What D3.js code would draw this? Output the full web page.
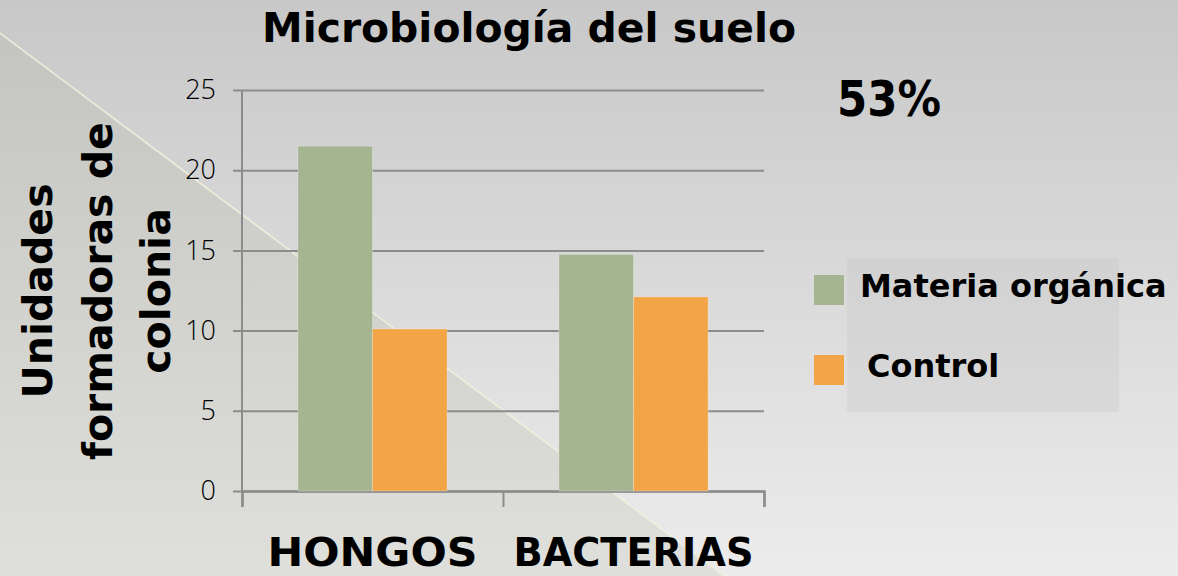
<!DOCTYPE html>
<html>
<head>
<meta charset="utf-8">
<script src="https://cdn.jsdelivr.net/npm/d3@7"></script>
<style>
  body { margin: 0; padding: 0; overflow: hidden; }
  text { font-family: "DejaVu Sans", sans-serif; fill: #000; }
</style>
</head>
<body>
<div id="chart-container"></div>
<script>
const categories = ["HONGOS", "BACTERIAS"];
const categoryLabelWidths = [210, 240];
const seriesNames = ["Materia orgánica", "Control"];
const seriesColors = ["#a5b592", "#f3a447"];
const materiaOrganica = [21.5, 14.75];
const control = [10.1, 12.1];
const yTicks = [0, 5, 10, 15, 20, 25];
const titleText = "Microbiología del suelo";
const yTitleLines = ["Unidades", "formadoras de", "colonia"];
const percentText = "53%";

const svgWidth = 1178;
const svgHeight = 576;
const margin = { top: 90, right: 414, bottom: 85, left: 242 };

const svg = d3.select("#chart-container")
    .append("svg")
    .attr("width", svgWidth)
    .attr("height", svgHeight);

// background gradients (slide look)
const defs = svg.append("defs");
const bgGrad = defs.append("linearGradient")
    .attr("id", "bgGrad").attr("x1", 0).attr("y1", 0).attr("x2", 0).attr("y2", 1);
bgGrad.append("stop").attr("offset", "0%").attr("stop-color", "#c8c8c8");
bgGrad.append("stop").attr("offset", "100%").attr("stop-color", "#ececec");

const triGrad = defs.append("linearGradient")
    .attr("id", "triGrad").attr("x1", 0).attr("y1", 0).attr("x2", 0).attr("y2", 1);
triGrad.append("stop").attr("offset", "0%").attr("stop-color", "#c4c5c0");
triGrad.append("stop").attr("offset", "100%").attr("stop-color", "#dfe0db");

svg.append("rect")
    .attr("width", svgWidth)
    .attr("height", svgHeight)
    .attr("fill", "url(#bgGrad)");

svg.append("polygon")
    .attr("points", "0,33 724,576 0,576")
    .attr("fill", "url(#triGrad)");

svg.append("line")
    .attr("x1", 0).attr("y1", 33)
    .attr("x2", 724).attr("y2", 576)
    .attr("stroke", "#efefdc")
    .attr("stroke-width", 1.5);

const plotRight = svgWidth - margin.right;
const plotBottom = svgHeight - margin.bottom;

const xScale = d3.scaleBand()
    .domain(categories)
    .range([margin.left, plotRight]);

const xSeries = d3.scaleBand()
    .domain(seriesNames)
    .range([0, xScale.bandwidth()])
    .paddingOuter(0.75)
    .paddingInner(0);

const yScale = d3.scaleLinear()
    .domain([0, 25])
    .range([plotBottom, margin.top]);

// gridlines + outward ticks in one axis, anchored at the right edge
const yAxis = svg.append("g")
    .attr("transform", `translate(${plotRight}, 0)`)
    .call(d3.axisLeft(yScale).tickValues(yTicks).tickSize(plotRight - margin.left + 9).tickPadding(17));

yAxis.select(".domain").remove();
yAxis.selectAll(".tick line")
    .attr("stroke", "#8c8c8c")
    .attr("stroke-width", 2);
yAxis.selectAll(".tick text")
    .style("font-family", "'Open Sans', sans-serif")
    .style("font-weight", 300)
    .style("font-size", "27px")
    .attr("fill", "#111");

// vertical axis line
svg.append("line")
    .attr("x1", margin.left).attr("y1", margin.top)
    .attr("x2", margin.left).attr("y2", plotBottom)
    .attr("stroke", "#8c8c8c")
    .attr("stroke-width", 2);

// category boundary ticks
const xEdges = d3.scaleLinear()
    .domain([0, categories.length])
    .range([margin.left, plotRight]);

const xAxis = svg.append("g")
    .attr("transform", `translate(0, ${plotBottom})`)
    .call(d3.axisBottom(xEdges).ticks(categories.length).tickSize(16).tickFormat(d => ""));

xAxis.select(".domain")
    .attr("stroke", "#8c8c8c")
    .attr("stroke-width", 2.5);
xAxis.selectAll(".tick line")
    .attr("stroke", "#8c8c8c")
    .attr("stroke-width", 2);

// category labels
const xLabels = svg.append("g")
    .attr("transform", `translate(0, ${plotBottom})`)
    .call(d3.axisBottom(xScale).tickSize(0).tickPadding(0));
xLabels.select(".domain").remove();
xLabels.selectAll(".tick text")
    .attr("y", 75)
    .attr("dy", 0)
    .attr("textLength", (d, i) => categoryLabelWidths[i])
    .attr("lengthAdjust", "spacingAndGlyphs")
    .style("font-family", "'DejaVu Sans', sans-serif")
    .style("font-weight", "bold")
    .style("font-size", "39px")
    .attr("fill", "#000");

// bars
const seriesValues = [materiaOrganica, control];
seriesNames.forEach((name, si) => {
    svg.selectAll("rect.s" + si)
        .data(categories)
        .enter()
        .append("rect")
        .attr("class", "s" + si)
        .attr("x", d => xScale(d) + xSeries(name))
        .attr("y", (d, i) => yScale(seriesValues[si][i]))
        .attr("width", xSeries.bandwidth())
        .attr("height", (d, i) => plotBottom - yScale(seriesValues[si][i]))
        .attr("fill", seriesColors[si])
        .attr("stroke", "rgba(255,255,255,0.25)")
        .attr("stroke-width", 1);
});

// title
svg.append("text")
    .attr("x", 529)
    .attr("y", 42)
    .attr("text-anchor", "middle")
    .attr("textLength", 534)
    .attr("lengthAdjust", "spacingAndGlyphs")
    .style("font-weight", "bold")
    .style("font-size", "40px")
    .text(titleText);

// y title (three rotated lines)
const yTitleX = [52, 112, 170];
yTitleLines.forEach((line, i) => {
    svg.append("text")
        .attr("transform", `translate(${yTitleX[i]}, 291) rotate(-90)`)
        .attr("text-anchor", "middle")
        .style("font-weight", "bold")
        .style("font-size", "41px")
        .text(line);
});

// 53% note
svg.append("text")
    .attr("x", 837)
    .attr("y", 116)
    .attr("textLength", 104)
    .attr("lengthAdjust", "spacingAndGlyphs")
    .style("font-weight", "bold")
    .style("font-size", "50px")
    .text(percentText);

// legend
function drawLegend(svg) {
    svg.append("rect")
        .attr("x", 847)
        .attr("y", 258)
        .attr("width", 272)
        .attr("height", 154)
        .attr("fill", "rgba(190,190,190,0.25)");

    const legendY = [275, 355];
    const labelX = [860, 867];
    seriesNames.forEach((name, i) => {
        svg.append("rect")
            .attr("x", 814)
            .attr("y", legendY[i])
            .attr("width", 30)
            .attr("height", 30)
            .attr("fill", seriesColors[i]);

        svg.append("text")
            .attr("x", labelX[i])
            .attr("y", legendY[i] + 22)
            .style("font-weight", "bold")
            .style("font-size", "32px")
            .text(name);
    });
}

drawLegend(svg);
</script>
</body>
</html>
